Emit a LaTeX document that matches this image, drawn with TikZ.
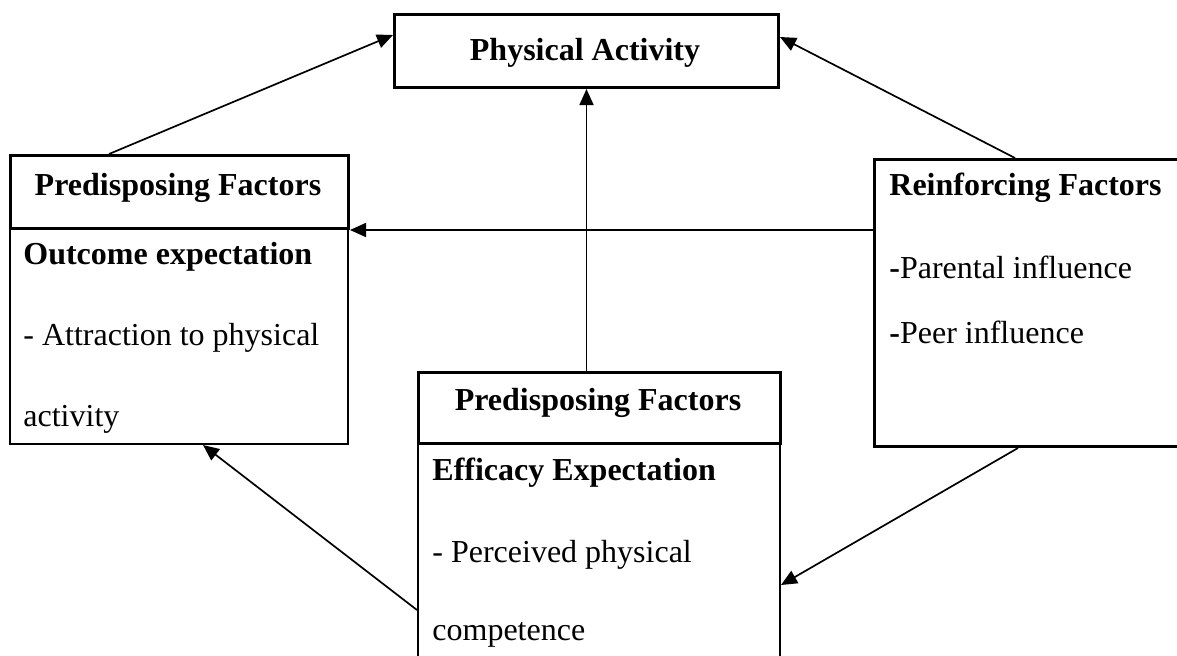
\documentclass[tikz,border=0pt]{standalone}
\usepackage{fontspec}
\setmainfont{Liberation Serif}
\usetikzlibrary{arrows.meta}
\begin{document}
\begin{tikzpicture}[x=0.5pt,y=-0.5pt,
  heavybox/.style={draw, line width=1.5pt, inner sep=0pt, anchor=north west},
  lightbox/.style={draw, line width=1pt, inner sep=0pt, anchor=north west},
  lbl/.style={inner sep=0pt, anchor=base west, font=\fontsize{16}{19}\selectfont},
  boldlbl/.style={lbl, font=\fontsize{16}{19}\selectfont\bfseries},
  head/.style={inner sep=0pt, anchor=base, font=\fontsize{16}{19}\selectfont\bfseries},
  link/.style={line width=0.85pt, -{Triangle[length=8pt,width=7pt]}}]
\useasboundingbox (0,0) rectangle (1177,655);
\clip (0,0) rectangle (1177,655);

% top box
\node[heavybox, minimum width=192pt, minimum height=36.5pt] (pa) at (393,13) {};
\node[head] (patext) at (585,60) {Physical Activity};

% left box: body first, header drawn over it
\node[lightbox, minimum width=169pt, minimum height=108pt] (lbody) at (9,227) {};
\node[heavybox, minimum width=169pt, minimum height=36.5pt] (lhead) at (9,154) {};
\node[head] (lheadtext) at (178,195) {Predisposing Factors};
\node[boldlbl] (ltitle) at (23,264) {Outcome expectation};
\node[lbl] (lline1) at (23,345) {- Attraction to physical};
\node[lbl] (lline2) at (23,426) {activity};

% middle box
\node[lightbox, minimum width=181pt, minimum height=129pt] (mbody) at (417,442) {};
\node[heavybox, minimum width=181pt, minimum height=35.5pt] (mhead) at (417,371) {};
\node[head] (mheadtext) at (598,410) {Predisposing Factors};
\node[boldlbl] (mtitle) at (432,480) {Efficacy Expectation};
\node[lbl] (mline1) at (432,562) {- Perceived physical};
\node[lbl] (mline2) at (432,640) {competence};

% right box
\node[heavybox, minimum width=158.5pt, minimum height=143.5pt] (rbox) at (873,158) {};
\node[boldlbl] (rtitle) at (889,195) {Reinforcing Factors};
\node[lbl] (rline1) at (889,278) {{\bfseries -}Parental influence};
\node[lbl] (rline2) at (889,343) {{\bfseries -}Peer influence};

% connectors
\draw[link] ([xshift=50pt]lhead.north west) -- ([yshift=-11pt]pa.north west);
\draw[link] ([xshift=71pt]rbox.north west) -- ([yshift=-12pt]pa.north east);
\draw[link] (pa.south |- mhead.north) -- (pa.south);
\draw[link] (rbox.west |- lhead.south) -- (lhead.south east);
\draw[link] ([yshift=-84pt]mbody.north west) -- ([xshift=97pt]lbody.south west);
\draw[link] ([xshift=72.5pt]rbox.south west) -- ([yshift=-71.5pt]mbody.north east);
\end{tikzpicture}
\end{document}
